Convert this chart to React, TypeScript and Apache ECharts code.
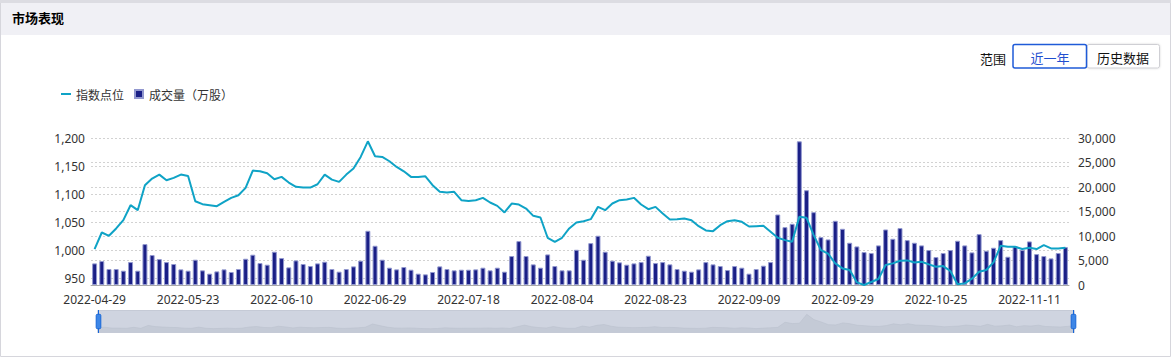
import React, { useEffect, useRef } from "react";
import * as echarts from "echarts";

const dates = [
  "2022-04-29",
  "2022-05-05", "2022-05-06", "2022-05-09", "2022-05-10", "2022-05-11", "2022-05-12", "2022-05-13",
  "2022-05-16", "2022-05-17", "2022-05-18", "2022-05-19", "2022-05-20", "2022-05-23", "2022-05-24",
  "2022-05-25", "2022-05-26", "2022-05-27", "2022-05-30", "2022-05-31",
  "2022-06-01", "2022-06-02", "2022-06-06", "2022-06-07", "2022-06-08", "2022-06-09", "2022-06-10",
  "2022-06-13", "2022-06-14", "2022-06-15", "2022-06-16", "2022-06-17", "2022-06-20", "2022-06-21",
  "2022-06-22", "2022-06-23", "2022-06-24", "2022-06-27", "2022-06-28", "2022-06-29", "2022-06-30",
  "2022-07-01", "2022-07-04", "2022-07-05", "2022-07-06", "2022-07-07", "2022-07-08", "2022-07-11",
  "2022-07-12", "2022-07-13", "2022-07-14", "2022-07-15", "2022-07-18", "2022-07-19", "2022-07-20",
  "2022-07-21", "2022-07-22", "2022-07-25", "2022-07-26", "2022-07-27", "2022-07-28", "2022-07-29",
  "2022-08-01", "2022-08-02", "2022-08-03", "2022-08-04", "2022-08-05", "2022-08-08", "2022-08-09",
  "2022-08-10", "2022-08-11", "2022-08-12", "2022-08-15", "2022-08-16", "2022-08-17", "2022-08-18",
  "2022-08-19", "2022-08-22", "2022-08-23", "2022-08-24", "2022-08-25", "2022-08-26", "2022-08-29",
  "2022-08-30", "2022-08-31",
  "2022-09-01", "2022-09-02", "2022-09-05", "2022-09-06", "2022-09-07", "2022-09-08", "2022-09-09",
  "2022-09-13", "2022-09-14", "2022-09-15", "2022-09-16", "2022-09-19", "2022-09-20", "2022-09-21",
  "2022-09-22", "2022-09-23", "2022-09-26", "2022-09-27", "2022-09-28", "2022-09-29", "2022-09-30",
  "2022-10-10", "2022-10-11", "2022-10-12", "2022-10-13", "2022-10-14", "2022-10-17", "2022-10-18",
  "2022-10-19", "2022-10-20", "2022-10-21", "2022-10-24", "2022-10-25", "2022-10-26", "2022-10-27",
  "2022-10-28", "2022-10-31",
  "2022-11-01", "2022-11-02", "2022-11-03", "2022-11-04", "2022-11-07", "2022-11-08", "2022-11-09",
  "2022-11-10", "2022-11-11", "2022-11-14", "2022-11-15", "2022-11-16", "2022-11-17", "2022-11-18",
];

const indexPoints = [
  1001.8, 1031.4, 1025.5, 1038.6, 1053.4, 1080.1, 1071.2, 1115.7, 1127.6, 1134.7, 1124.6, 1128.8,
  1134.7, 1132.3, 1087.2, 1081.9, 1080.1, 1078.3, 1086.0, 1093.2, 1097.9, 1111.0, 1141.8, 1140.6,
  1137.1, 1126.4, 1130.6, 1120.5, 1112.8, 1111.6, 1111.6, 1117.5, 1134.7, 1125.8,
  1121.7, 1134.7, 1145.4, 1166.2, 1194.1, 1167.4, 1166.2, 1158.5, 1148.4, 1140.6, 1130.6, 1130.6,
  1131.7, 1115.7, 1103.9, 1102.7, 1103.9, 1089.0, 1087.8, 1089.0, 1093.2, 1084.9, 1078.9, 1067.1,
  1083.1, 1081.3, 1074.2, 1061.1, 1058.2, 1022.0, 1014.8, 1022.0, 1038.6, 1049.3,
  1051.6, 1055.2, 1077.1, 1071.2, 1083.1, 1089.0, 1090.2, 1093.2, 1081.3, 1073.0, 1077.1, 1065.3,
  1054.6, 1055.2, 1056.4, 1053.4, 1042.7, 1035.0, 1033.8, 1044.5, 1051.6, 1053.4, 1050.4, 1042.1,
  1042.7, 1043.3, 1032.6, 1022.0, 1017.8, 1014.8, 1059.3, 1057.6, 1026.7, 1000.0,
  993.5, 976.3, 967.3, 964.4, 942.4, 937.7, 943.0, 948.4, 973.3, 976.3, 981.0, 981.6,
  978.0, 979.2, 974.5, 970.3, 971.5, 962.6, 938.9, 940.6, 949.0, 961.4, 964.4, 978.0,
  1007.7, 1005.9, 1005.9, 1001.8, 1004.1, 1001.8, 1008.9, 1003.0, 1003.0, 1004.1,
];

const volumes = [
  4410, 4890, 3260, 3260, 2920, 4680, 2920, 8350, 6110, 5290, 4680, 4280, 3190, 2920, 5160, 2990,
  2310, 2780, 3190, 2650, 3260, 5360, 6180, 4480, 4140, 6790, 5500, 3600, 5020, 4280, 3870, 4410,
  4750, 3260,
  2720, 3260, 3800, 4960, 11060, 8010, 5160, 3530, 3190, 3670, 3120, 2310, 2170, 2650, 3800, 3260,
  2990, 3120, 3120, 3190, 3530, 2990, 3530, 2720, 5910, 8960, 5910, 4210, 3530, 6240, 3870, 2990,
  2990, 7190,
  5160, 8550, 10050, 6790, 4960, 4620, 4140, 4410, 4680, 5970, 4480, 4680, 4210, 3260, 2920, 2720,
  3190, 4680, 4210, 3870, 3050, 3870, 3530, 2310, 3260, 3940, 4680, 14390, 11810, 12490, 29320,
  19340, 14860, 9770,
  9300, 13100, 11470, 8620, 7870, 6720, 6520, 8080, 11330, 9430, 11610, 9160, 8620, 8080, 7130,
  5700, 6520, 7130, 9030, 8080, 6650, 10380, 6990, 7600, 9160, 5770, 7940, 7130, 8890, 6310, 5910,
  5430, 6520, 7740,
];

const titleText = "市场表现";
const lineName = "指数点位";
const barName = "成交量（万股）";
const rangeLabel = "范围";
const rangeButtons = ["近一年", "历史数据"];

const LINE_COLOR = "#0fa3c6";
const BAR_COLOR = "#1a1f86";
const FONT = "'Noto Sans', 'Noto Sans CJK SC', sans-serif";
const CJK = "'Noto Sans CJK SC', 'Noto Sans', sans-serif";

export default function App() {
  const ref = useRef<HTMLDivElement>(null);

  useEffect(() => {
    document.body.style.margin = "0";
    const chart = echarts.init(ref.current as HTMLDivElement, null, { renderer: "svg" });
    const split = { show: true, lineStyle: { type: [2, 2], color: "#d2d2d2", width: 1 } };
    chart.setOption({
      animation: false,
      textStyle: { fontFamily: FONT },
      graphic: [
        { type: "rect", z: -10, shape: { x: 0.5, y: 0.5, width: 1170, height: 356 }, style: { fill: "#fff", stroke: "#d6d6dc", lineWidth: 1 } },
        { type: "rect", z: -9, shape: { x: 1, y: 1, width: 1169, height: 34 }, style: { fill: "#f0f0f5" } },
        { type: "rect", z: -8, shape: { x: 0, y: 0, width: 1171, height: 3 }, style: { fill: "#dcdce2" } },
        { type: "text", x: 12, y: 17, style: { text: titleText, fill: "#000", font: `bold 13px ${CJK}`, align: "left", verticalAlign: "middle" } },
        { type: "text", x: 980, y: 58, style: { text: rangeLabel, fill: "#111", font: `13px ${CJK}`, align: "left", verticalAlign: "middle" } },
        { type: "rect", shape: { x: 1087, y: 44.5, width: 72.5, height: 23.5, r: 2 }, style: { fill: "#fff", stroke: "#cfcfd4", lineWidth: 1, shadowBlur: 2, shadowColor: "rgba(0,0,0,0.15)" } },
        { type: "text", x: 1123, y: 57, style: { text: rangeButtons[1], fill: "#111", font: `13px ${CJK}`, align: "center", verticalAlign: "middle" } },
        { type: "rect", shape: { x: 1013, y: 44.5, width: 73.5, height: 23.5, r: 2 }, style: { fill: "#fff", stroke: "#1f5bd8", lineWidth: 1.5 } },
        { type: "text", x: 1050, y: 57, style: { text: rangeButtons[0], fill: "#1f4fd0", font: `13px ${CJK}`, align: "center", verticalAlign: "middle" } },
      ],
      legend: {
        left: 56,
        top: 83,
        itemWidth: 10,
        itemHeight: 8,
        itemGap: 10,
        textStyle: { fontSize: 12, color: "#333", fontFamily: CJK },
        data: [
          { name: lineName, icon: "path://M0,0h10v2h-10z" },
          { name: barName, icon: "path://M0,0h10v10h-10z" },
        ],
      },
      grid: { left: 91, right: 106, top: 138, bottom: 77 },
      xAxis: {
        type: "category",
        data: dates,
        axisLabel: { interval: 12, color: "#333", fontSize: 12, margin: 8 },
        axisTick: { show: false },
        axisLine: { lineStyle: { color: "#aaa" } },
      },
      yAxis: [
        {
          type: "value",
          position: "left",
          min: "dataMin",
          axisLabel: { color: "#333", fontSize: 12, margin: 6 },
          axisLine: { show: false },
          axisTick: { show: false },
          splitLine: split,
        },
        {
          type: "value",
          position: "right",
          min: 0,
          axisLabel: { color: "#333", fontSize: 12, margin: 9 },
          axisLine: { show: false },
          axisTick: { show: false },
          splitLine: split,
        },
      ],
      dataZoom: [
        {
          type: "slider",
          xAxisIndex: 0,
          start: 0,
          end: 100,
          left: 95,
          right: 103,
          top: 310,
          height: 23,
          showDetail: false,
          brushSelect: false,
          moveHandleSize: 0,
          backgroundColor: "#dde1ea",
          fillerColor: "rgba(190,197,212,0.45)",
          borderColor: "#c5cad6",
          handleStyle: { color: "#3d86e6", borderColor: "#1766d8" },
          dataBackground: { lineStyle: { color: "#b3b8c3" }, areaStyle: { color: "#c4c9d3", opacity: 0.8 } },
          selectedDataBackground: { lineStyle: { color: "#b3b8c3" }, areaStyle: { color: "#c4c9d3", opacity: 0.8 } },
        },
      ],
      series: [
        {
          name: barName,
          type: "bar",
          yAxisIndex: 1,
          data: volumes,
          itemStyle: { color: BAR_COLOR, borderColor: "#9298cf", borderWidth: 1 },
        },
        {
          name: lineName,
          type: "line",
          yAxisIndex: 0,
          data: indexPoints,
          symbol: "none",
          lineStyle: { color: LINE_COLOR, width: 2 },
          itemStyle: { color: LINE_COLOR },
        },
      ],
    });
    return () => chart.dispose();
  }, []);

  return <div ref={ref} style={{ width: 1175, height: 362 }} />;
}
